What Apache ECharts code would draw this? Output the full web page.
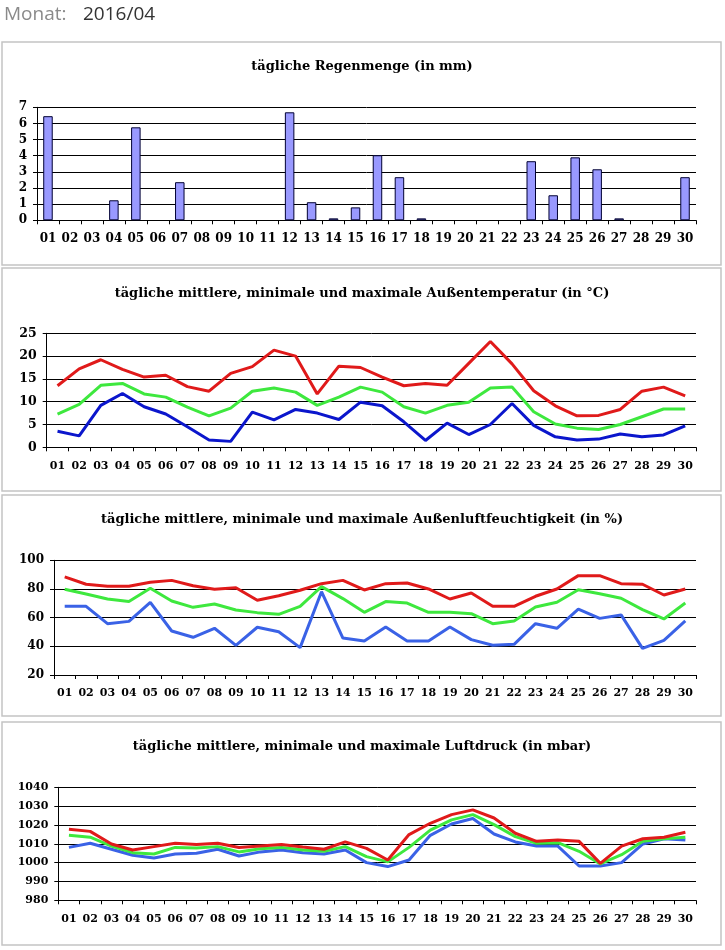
<!DOCTYPE html>
<html>
<head>
<meta charset="utf-8">
<script src="https://cdn.jsdelivr.net/npm/echarts@6/dist/echarts.min.js"></script>
<style>
html,body{margin:0;padding:0;background:#fff;}
#c{width:725px;height:950px;}
</style>
</head>
<body>
<div id="c"></div>
<script>
const days = ['01','02','03','04','05','06','07','08','09','10','11','12','13','14','15','16','17','18','19','20','21','22','23','24','25','26','27','28','29','30'];

const rain = [6.45,0,0,1.24,5.76,0,2.36,0,0,0,0,6.69,1.12,0.12,0.8,4.03,2.67,0.12,0,0,0,0,3.66,1.55,3.9,3.16,0.12,0,0,2.67];

const tempMax = [13.5,17.2,19.2,17.1,15.4,15.8,13.3,12.3,16.2,17.7,21.3,20.0,11.7,17.8,17.5,15.4,13.5,14.0,13.6,18.4,23.2,18.3,12.4,9.1,6.9,7.0,8.3,12.3,13.2,11.3];
const tempMean = [7.3,9.4,13.6,14.0,11.7,11.0,8.8,6.9,8.6,12.3,13.0,12.1,9.2,11.0,13.2,12.1,8.9,7.5,9.2,9.9,13.0,13.2,7.8,5.1,4.2,3.9,5.0,6.7,8.4,8.4];
const tempMin = [3.5,2.5,9.2,11.8,8.9,7.3,4.5,1.6,1.3,7.7,6.0,8.3,7.5,6.1,9.9,9.1,5.6,1.5,5.3,2.8,5.0,9.6,4.8,2.3,1.6,1.8,2.9,2.3,2.7,4.7];

const humMax = [88.4,83.3,81.9,81.9,84.7,86.0,82.3,79.8,80.9,72.1,75.3,79.1,83.7,86.0,79.3,83.7,84.2,80.0,73.0,77.2,67.9,67.9,74.9,80.0,89.3,89.3,83.7,83.3,75.8,80.0];
const humMean = [79.8,76.5,73.0,71.2,80.5,71.6,67.2,69.5,65.3,63.5,62.3,67.9,81.6,73.3,63.7,71.2,70.2,63.7,63.7,62.8,55.8,57.7,67.4,70.7,79.5,76.7,73.5,65.6,59.1,70.2];
const humMin = [67.9,67.9,55.8,57.4,70.7,50.7,46.3,52.6,40.7,53.3,50.2,39.1,78.1,45.8,43.7,53.5,43.7,43.7,53.5,44.7,40.7,41.4,55.8,52.6,66.0,59.5,61.9,38.6,44.2,57.7];

const presMax = [1017.7,1016.6,1009.9,1006.7,1008.5,1010.3,1009.6,1010.3,1008.0,1008.8,1009.6,1008.3,1007.1,1011.0,1007.6,1001.4,1014.9,1020.9,1025.5,1028.0,1023.7,1015.6,1011.3,1012.0,1011.3,999.6,1008.8,1012.7,1013.5,1016.1];
const presMean = [1014.5,1013.5,1008.8,1005.3,1004.6,1008.1,1007.8,1008.5,1005.7,1007.4,1008.1,1006.7,1006.0,1008.5,1003.2,1000.4,1008.1,1017.3,1022.7,1025.5,1020.2,1013.8,1010.3,1010.6,1006.0,999.3,1004.2,1011.3,1012.7,1013.5];
const presMin = [1008.1,1010.3,1007.1,1003.9,1002.5,1004.6,1005.0,1007.1,1003.5,1005.7,1006.7,1005.3,1004.6,1006.7,1000.0,997.9,1001.4,1014.5,1020.5,1023.4,1015.2,1011.0,1008.8,1008.8,998.2,998.2,1000.0,1009.9,1012.7,1012.0];

const titles = [
  'tägliche Regenmenge (in mm)',
  'tägliche mittlere, minimale und maximale Außentemperatur (in °C)',
  'tägliche mittlere, minimale und maximale Außenluftfeuchtigkeit (in %)',
  'tägliche mittlere, minimale und maximale Luftdruck (in mbar)'
];

const FONT = '"DejaVu Serif", serif';
const RED = '#e01a1a', GREEN = '#3ee83e', BLUE_DARK = '#0b16cc', BLUE = '#3a62e6';

const grids = [
  {left:37, top:107.3, width:659, height:113},
  {left:46.7, top:333.3, width:649.3, height:114},
  {left:54, top:560.3, width:642, height:114.7},
  {left:58.3, top:787.3, width:637.7, height:113}
];
const yRanges = [[0,7,1],[0,25,5],[20,100,20],[980,1040,10]];
const xFont = [12, 11, 11, 11];
const yFont = [12, 12.5, 12, 11];
const titleY = [66.7, 294, 520, 746.7];
const panels = [[42,223],[268,223],[495,221],[722,223]];

const black = '#000';
const xAxes = grids.map((g,i)=>({
  type:'category', gridIndex:i, data:days, boundaryGap:true,
  axisLine:{show:true, lineStyle:{color:black, width:1}},
  axisTick:{show:true, length:4, lineStyle:{color:black}},
  axisLabel:{interval:0, margin:13, color:black, fontFamily:FONT, fontWeight:'bold', fontSize:xFont[i]},
  splitLine:{show:false}
}));
const yAxes = grids.map((g,i)=>({
  type:'value', gridIndex:i, min:yRanges[i][0], max:yRanges[i][1], interval:yRanges[i][2],
  axisLine:{show:true, lineStyle:{color:black, width:1}},
  axisTick:{show:true, length:4, lineStyle:{color:black}},
  axisLabel:{margin:10, color:black, fontFamily:FONT, fontWeight:'bold', fontSize:yFont[i],
    formatter:(v)=>String(v)},
  splitLine:{show:true, lineStyle:{color:black, width:1}}
}));

function line(i, data, color){
  return {type:'line', xAxisIndex:i, yAxisIndex:i, data:data, showSymbol:false, symbol:'none',
    lineStyle:{color:color, width:3}, itemStyle:{color:color}, animation:false};
}

const series = [
  {type:'bar', xAxisIndex:0, yAxisIndex:0, data:rain.map(v => v === 0 ? null : v), barWidth:9.5,
   itemStyle:{color:'#9999ff', borderColor:'#000033', borderWidth:1}, animation:false},
  line(1, tempMin, BLUE_DARK), line(1, tempMean, GREEN), line(1, tempMax, RED),
  line(2, humMin, BLUE), line(2, humMean, GREEN), line(2, humMax, RED),
  line(3, presMin, BLUE), line(3, presMean, GREEN), line(3, presMax, RED)
];

const graphics = [];
panels.forEach(p=>{
  graphics.push({type:'rect', shape:{x:2, y:p[0], width:719, height:p[1]},
    style:{fill:'none', stroke:'#c4c4c4', lineWidth:1.5}, z:-1});
});
titles.forEach((t,i)=>{
  graphics.push({type:'text', style:{text:t, x:362, y:titleY[i], textAlign:'center', textVerticalAlign:'middle',
    font:'bold 13px "DejaVu Serif", serif', fill:'#000'}});
});
graphics.push({type:'text', style:{text:'Monat:', x:4, y:15, textVerticalAlign:'middle',
  font:'19px "Open Sans", sans-serif', fill:'#8a8a8a'}});
graphics.push({type:'text', style:{text:'2016/04', x:83, y:15, textVerticalAlign:'middle',
  font:'19px "Open Sans", sans-serif', fill:'#333'}});

const chart = echarts.init(document.getElementById('c'), null, {renderer:'canvas'});
chart.setOption({
  animation:false,
  backgroundColor:'#fff',
  grid:grids,
  xAxis:xAxes,
  yAxis:yAxes,
  series:series,
  graphic:graphics
});
</script>
</body>
</html>
